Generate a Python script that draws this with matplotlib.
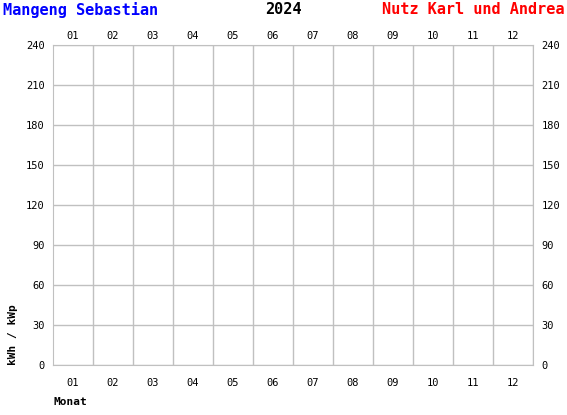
import numpy as np
import matplotlib
matplotlib.use('Agg')
from matplotlib import pyplot as plt

# Daten
months = ['01', '02', '03', '04', '05', '06', '07', '08', '09', '10', '11', '12']
values = [0, 0, 0, 0, 0, 0, 0, 0, 0, 0, 0, 0]
y_ticks = [0, 30, 60, 90, 120, 150, 180, 210, 240]
title_left = 'Mangeng Sebastian'
title_mid = '2024'
title_right = 'Nutz Karl und Andrea'

plt.rcParams['font.family'] = ['DejaVu Sans Mono']
grid_col = '#c0c0c0'

fig = plt.figure(figsize=(5.67, 4.15), dpi=100)
ax = fig.add_axes([53/567, 50/415, 480/567, 320/415])

x = np.arange(len(months))
ax.bar(x, values, width=0.6, color='#0000ff')
ax.set_xlim(-0.5, len(months) - 0.5)
ax.set_ylim(0, 240)

# Gitter
ax.set_xticks(x + 0.5, minor=True)
ax.set_yticks(y_ticks)
ax.grid(True, which='minor', axis='x', color=grid_col, lw=1)
ax.grid(True, which='major', axis='y', color=grid_col, lw=1)
for s in ax.spines.values():
    s.set_color(grid_col)

ax.set_xticks(x)
ax.set_xticklabels(months)
ax.tick_params(axis='x', which='both', length=0, labelsize=7.5, pad=9)
ax.tick_params(axis='y', length=0, labelsize=7.5, pad=6,
               labelright=True, right=False)

# Monate oben
top = ax.secondary_xaxis('top')
top.set_xticks(x)
top.set_xticklabels(months)
top.tick_params(length=0, labelsize=7.5, pad=3)
top.spines['top'].set_visible(False)

fig.text(3/567, 1 - 10/415, title_left, color='#0000ff', fontsize=11,
         fontweight='bold', ha='left', va='center')
fig.text(283/567, 1 - 10/415, title_mid, color='black', fontsize=11,
         fontweight='bold', ha='center', va='center')
fig.text(564/567, 1 - 10/415, title_right, color='#ff0000', fontsize=11,
         fontweight='bold', ha='right', va='center')
fig.text(13/567, 1 - 335/415, 'kWh / kWp', rotation=90, fontsize=8,
         fontweight='bold', ha='center', va='center')
fig.text(53/567, 1 - 402/415, 'Monat', fontsize=8, fontweight='bold',
         ha='left', va='center')

fig.savefig('out.png', dpi=100)
